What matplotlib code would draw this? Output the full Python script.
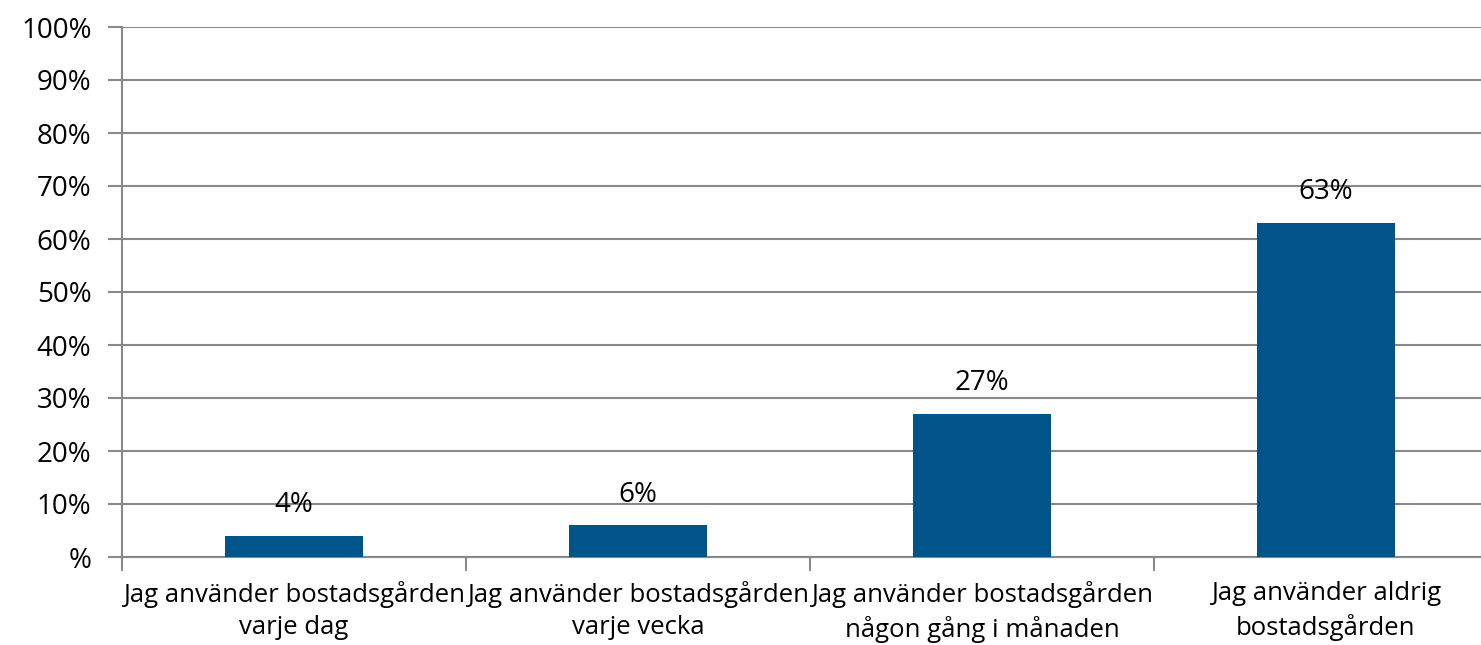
import matplotlib.pyplot as plt
from matplotlib.ticker import FixedLocator

plt.rcParams['font.family'] = ['Open Sans', 'DejaVu Sans']

categories = [
    "Jag använder bostadsgården\nvarje dag",
    "Jag använder bostadsgården\nvarje vecka",
    "Jag använder bostadsgården\nnågon gång i månaden",
    "Jag använder aldrig\nbostadsgården",
]
values = [4, 6, 27, 63]
yticks = list(range(0, 101, 10))
ytick_labels = ["%"] + [f"{v}%" for v in yticks[1:]]

BAR = "#00548a"
GRID = "#888888"

fig = plt.figure(figsize=(14.81, 6.45), dpi=100)
ax = fig.add_axes([122 / 1481, 88 / 645, 1376 / 1481, 530 / 645])

x = range(len(categories))
ax.bar(x, values, width=0.4, color=BAR, zorder=3)
for xi, v in zip(x, values):
    ax.annotate(f"{v}%", xy=(xi, v), xytext=(0, 12), textcoords="offset points",
                ha="center", va="bottom", fontsize=20, color="black")

ax.set_xlim(-0.5, len(categories) - 0.5)
ax.set_ylim(0, 100)
ax.set_yticks(yticks)
ax.set_yticklabels(ytick_labels)
ax.yaxis.grid(True, color=GRID, lw=1.5, zorder=0)
ax.tick_params(axis="y", length=10, width=1.5, color=GRID, labelsize=20, pad=12)

ax.set_xticks(list(x))
ax.set_xticklabels(categories, linespacing=1.4)
ax.tick_params(axis="x", length=0, labelsize=18.5, pad=17)
ax.xaxis.set_minor_locator(FixedLocator([i - 0.5 for i in range(len(categories) + 1)]))
ax.tick_params(axis="x", which="minor", length=10, width=1.5, color=GRID)

for s in ["top", "right"]:
    ax.spines[s].set_visible(False)
for s in ["left", "bottom"]:
    ax.spines[s].set_color(GRID)
    ax.spines[s].set_linewidth(1.5)

fig.savefig("out.png", dpi=100)
